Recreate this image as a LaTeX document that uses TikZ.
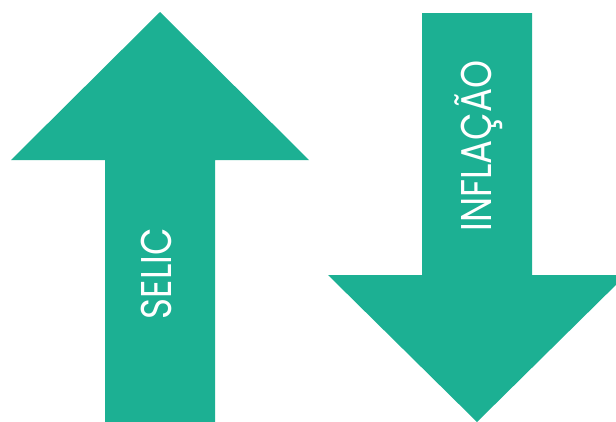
\documentclass[tikz,border=0pt]{standalone}
\usepackage{fontspec}
\newfontfamily\labelfont[FakeStretch=0.83]{Poppins}
\definecolor{arrowteal}{RGB}{28,176,147}
\begin{document}
\begin{tikzpicture}[x=1pt,y=-1pt,
  arrowbody/.style={fill=arrowteal,draw=none},
  arrowlabel/.style={text=white,font=\labelfont\fontsize{43}{43}\selectfont,
    rotate=90,anchor=base,inner sep=0pt}]
\useasboundingbox (0,0) rectangle (616,421);
\clip (0,0) rectangle (616,421);
% upward arrow (left)
\fill[arrowbody] (105,424) -- (105,160) -- (11,160) -- (160,12) -- (309,160)
  -- (215,160) -- (215,424) -- cycle;
% downward arrow (right)
\fill[arrowbody] (422,13) -- (532,13) -- (532,275) -- (626,275) -- (477,422)
  -- (328,275) -- (422,275) -- cycle;
\node[arrowlabel] (selic) at (171,273.5) {SELIC};
\node[arrowlabel] (inflacao) at (491,146) {INFLAÇÃO};
\end{tikzpicture}
\end{document}
